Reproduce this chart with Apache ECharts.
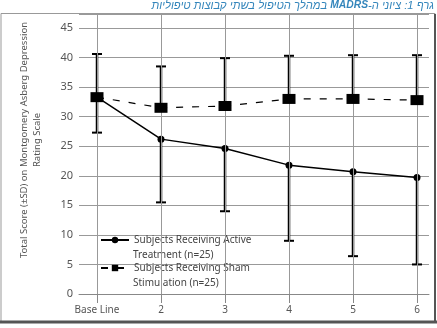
<!DOCTYPE html>
<html>
<head>
<meta charset="utf-8">
<script src="https://cdn.jsdelivr.net/npm/echarts@6/dist/echarts.min.js"></script>
<style>html,body{margin:0;padding:0;background:#fff}#c{width:437px;height:328px}</style>
</head>
<body>
<div id="c"></div>
<script>
const categories = ['Base Line', '2', '3', '4', '5', '6'];
const xPos = [1, 2, 3, 4, 5, 6];
const activeMean = [33.3, 26.2, 24.6, 21.8, 20.7, 19.7];
const activeLower = [27.3, 15.5, 14.0, 9.0, 6.4, 5.0];
const shamMean = [33.3, 31.5, 31.8, 33.0, 33.0, 32.8];
const shamUpper = [40.6, 38.5, 39.9, 40.3, 40.4, 40.4];
const activeName = 'Subjects Receiving Active\nTreatment (n=25)';
const shamName = 'Subjects Receiving Sham\nStimulation (n=25)';
const yTitle = 'Total Score (\u00B1SD) on Montgomery Asberg Depression\nRating Scale';

const chart = echarts.init(document.getElementById('c'), null, {renderer: 'canvas'});

function errRender(params, api) {
  const p0 = api.coord([api.value(0), api.value(1)]);
  const p1 = api.coord([api.value(0), api.value(2)]);
  return {
    type: 'group',
    children: [
      {type: 'line', shape: {x1: p0[0], y1: p0[1], x2: p1[0], y2: p1[1]}, style: {stroke: '#000', lineWidth: 2.5}},
      {type: 'line', shape: {x1: p1[0] - 5, y1: p1[1], x2: p1[0] + 5, y2: p1[1]}, style: {stroke: '#000', lineWidth: 2}}
    ]
  };
}

const font = 'Noto Sans';
const legendTextStyle = {fontSize: 10, fill: '#444', fontFamily: font, align: 'left', verticalAlign: 'middle'};
const option = {
  animation: false,
  backgroundColor: '#fff',
  textStyle: {fontFamily: font},
  grid: {left: 79, right: 8, top: 14, bottom: 34, outerBoundsMode: 'none', containLabel: false},
  xAxis: {
    type: 'value', min: 0.71875, max: 6.1875,
    splitLine: {show: false},
    axisLine: {show: true, lineStyle: {color: '#888', width: 1}},
    axisTick: {show: true, customValues: xPos, length: 9, lineStyle: {color: '#888', width: 1}},
    axisLabel: {show: true, customValues: xPos, margin: 11, fontSize: 10, color: '#555', fontFamily: font,
      formatter: v => categories[xPos.indexOf(Math.round(v))] || ''}
  },
  yAxis: {
    type: 'value', min: 0, max: 47.368, interval: 5,
    axisLine: {show: false}, axisTick: {show: false},
    splitLine: {show: true, lineStyle: {color: '#999', width: 1}},
    axisLabel: {margin: 6, fontSize: 11, color: '#555', fontFamily: font, showMaxLabel: false,
      formatter: v => (Math.abs(v % 5) < 1e-6 && v <= 45) ? String(v) : ''}
  },
  legend: {
    orient: 'vertical', left: 100, top: 233, padding: 0, itemGap: 14,
    itemWidth: 28, itemHeight: 8, selectedMode: false,
    data: [activeName, shamName],
    formatter: name => name.split('\n')[0],
    textStyle: {fontSize: 10, color: '#444', lineHeight: 14, fontFamily: font}
  },
  series: [
    {type: 'line', data: [], z: 1, silent: true,
      markLine: {silent: true, symbol: ['none', 'none'], label: {show: false},
        lineStyle: {type: 'solid', color: '#999', width: 1}, emphasis: {disabled: true},
        data: xPos.map(x => ({xAxis: x}))}},
    {type: 'custom', name: 'shamErr', z: 3, renderItem: errRender, encode: {x: 0, y: [1, 2]},
      data: xPos.map((x, i) => [x, shamMean[i], shamUpper[i]])},
    {type: 'custom', name: 'activeErr', z: 3, renderItem: errRender, encode: {x: 0, y: [1, 2]},
      data: xPos.map((x, i) => [x, activeMean[i], activeLower[i]])},
    {type: 'line', name: activeName, z: 4, data: xPos.map((x, i) => [x, activeMean[i]]),
      symbol: 'circle', symbolSize: 7, showAllSymbol: true,
      lineStyle: {color: '#000', width: 1.5, type: 'solid'}, itemStyle: {color: '#000'}},
    {type: 'line', name: shamName, z: 5, data: xPos.map((x, i) => [x, shamMean[i]]),
      symbol: 'rect', symbolSize: [13, 10], showAllSymbol: true,
      lineStyle: {color: '#000', width: 1.2, type: [7, 9]}, itemStyle: {color: '#000'}}
  ],
  graphic: [
    {type: 'rect', z: 0, silent: true, shape: {x: 1, y: 13.5, width: 434, height: 308.5},
      style: {fill: null, stroke: '#999', lineWidth: 1}},
    {type: 'line', silent: true, shape: {x1: 435, y1: 14, x2: 435, y2: 323}, style: {stroke: '#555', lineWidth: 2}},
    {type: 'line', silent: true, shape: {x1: 0, y1: 322, x2: 437, y2: 322}, style: {stroke: '#555', lineWidth: 3}},
    {type: 'text', silent: true, x: 133, y: 255, style: Object.assign({text: activeName.split('\n')[1]}, legendTextStyle)},
    {type: 'text', silent: true, x: 133, y: 283, style: Object.assign({text: shamName.split('\n')[1]}, legendTextStyle)},
    {type: 'text', silent: true, x: 31, y: 140, rotation: Math.PI / 2,
      style: {text: yTitle, align: 'center', verticalAlign: 'middle', fontSize: 9.5, lineHeight: 13,
        fill: '#555', fontFamily: font}},
    {type: 'text', silent: true, right: 3, top: 0,
      style: {
        text: '{n|\u202B\u05D1\u05DE\u05D4\u05DC\u05DA \u05D4\u05D8\u05D9\u05E4\u05D5\u05DC \u05D1\u05E9\u05EA\u05D9 \u05E7\u05D1\u05D5\u05E6\u05D5\u05EA \u05D8\u05D9\u05E4\u05D5\u05DC\u05D9\u05D5\u05EA\u202C }{b|MADRS}{n|\u202B\u05D2\u05E8\u05E3 1: \u05E6\u05D9\u05D5\u05E0\u05D9 \u05D4-\u202C}',
        rich: {
          n: {fontSize: 11.2, fontStyle: 'italic', fill: '#3385bb', fontFamily: 'Liberation Sans'},
          b: {fontSize: 10.3, fontStyle: 'italic', fontWeight: 'bold', fill: '#3385bb', fontFamily: 'Liberation Sans'}
        }
      }}
  ]
};
chart.setOption(option);
</script>
</body>
</html>
